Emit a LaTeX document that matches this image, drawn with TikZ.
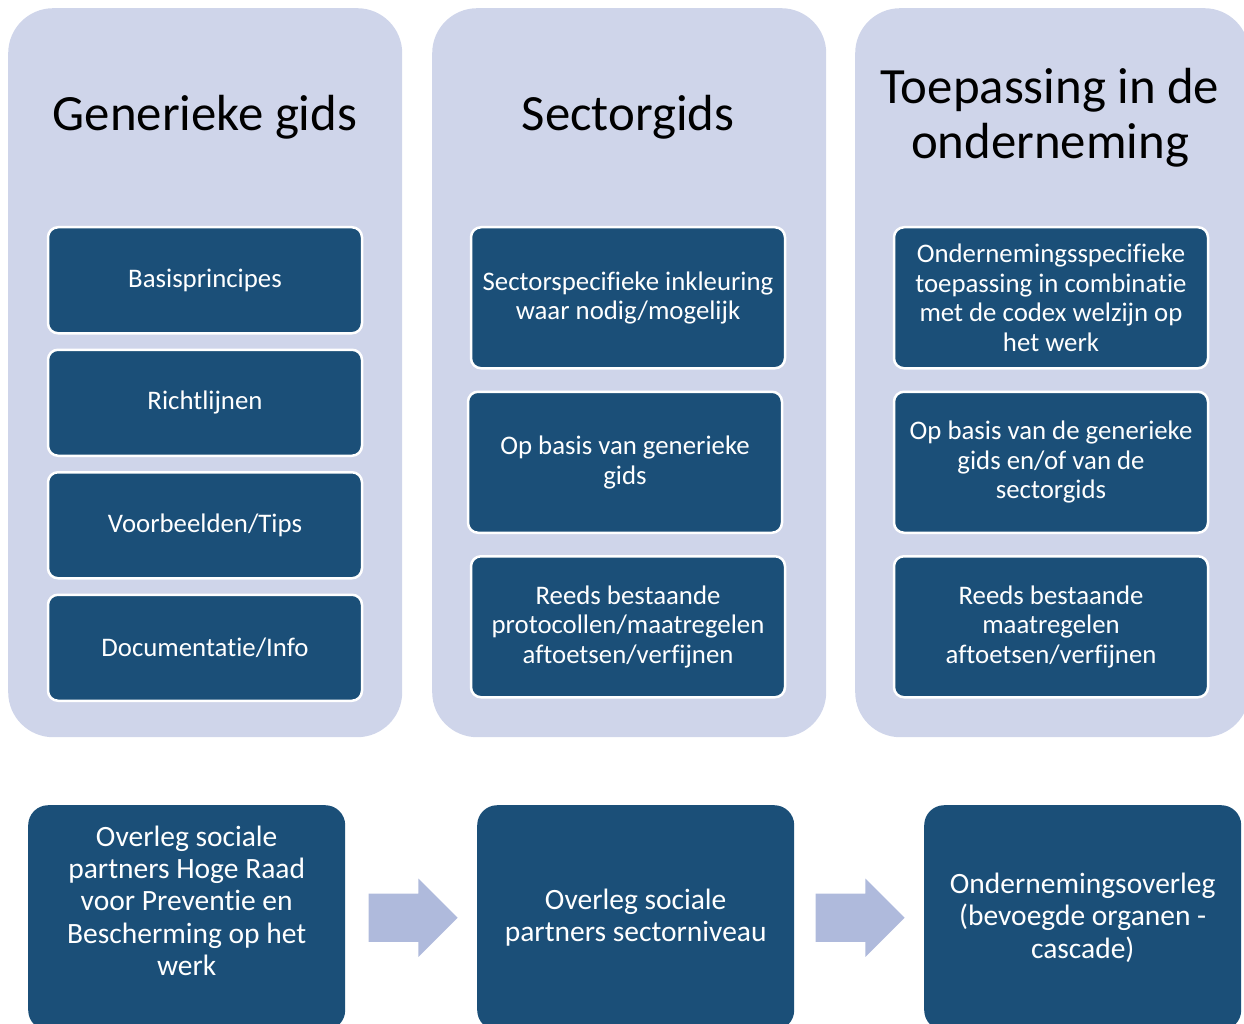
\documentclass[tikz,border=0pt]{standalone}
\usepackage{fontspec}
\setmainfont{Carlito}[Ligatures=NoCommon]
\usetikzlibrary{positioning,shapes.arrows}
\definecolor{panelbg}{HTML}{CFD5EA}
\definecolor{boxblue}{HTML}{1B4F78}
\definecolor{arrowblue}{HTML}{AFBADC}
\begin{document}
\begin{tikzpicture}[x=1pt,y=-1pt,
    panel/.style={fill=panelbg,rounded corners=45pt,anchor=north west,minimum width=394pt,minimum height=729pt,inner sep=0pt},
    title/.style={font=\fontsize{50.8}{55}\selectfont,align=center},
    item/.style={fill=boxblue,draw=white,line width=2.5pt,rounded corners=10pt,text=white,font=\fontsize{26.8}{29.5}\selectfont,align=center,minimum width=314pt,inner sep=0pt},
    stage/.style={fill=boxblue,rounded corners=20pt,text=white,font=\fontsize{29.5}{32.3}\selectfont,align=center,minimum width=317pt,minimum height=225pt,anchor=north west,inner sep=0pt},
    flow/.style={single arrow,fill=arrowblue,minimum height=89pt,minimum width=78pt,single arrow head extend=15pt,single arrow tip angle=90,inner xsep=0pt,inner ysep=24pt,anchor=west}]
  \useasboundingbox (0,0) rectangle (1244,1024);
  % three panels
  \node[panel] (generiek) at (8,8) {};
  \node[panel] (sector) at (432,8) {};
  \node[panel] (toepassing) at (855,8) {};
  \node[title] (gentitle) at (205,117) {Generieke gids};
  \node[title] (sectitle) at (628,117) {Sectorgids};
  \node[title] (toetitle) at (1050,118) {Toepassing in de\\onderneming};
  % generieke gids
  \node[item,minimum height=106pt,anchor=north] (basis) at (205,226) {Basisprincipes};
  \node[item,minimum height=106pt,below=14pt of basis] (richt) {Richtlijnen};
  \node[item,minimum height=106pt,below=14pt of richt] (voorb) {Voorbeelden/Tips};
  \node[item,minimum height=106pt,below=14pt of voorb] (docu) {Documentatie/Info};
  % sectorgids
  \node[item,minimum height=141pt,anchor=north] (sectspec) at (628,226) {Sectorspecifieke inkleuring\\waar nodig/mogelijk};
  \node[item,minimum height=141pt,below=21pt of sectspec,xshift=-3pt] (secbasis) {Op basis van generieke\\gids};
  \node[item,minimum height=141pt,below=21pt of secbasis,xshift=3pt] (secreeds) {Reeds bestaande\\protocollen/maatregelen\\aftoetsen/verfijnen};
  % toepassing in de onderneming
  \node[item,minimum height=141pt,anchor=north] (ondspec) at (1051,226) {Ondernemingsspecifieke\\toepassing in combinatie\\met de codex welzijn op\\het werk};
  \node[item,minimum height=141pt,below=21pt of ondspec] (ondbasis) {Op basis van de generieke\\gids en/of van de\\sectorgids};
  \node[item,minimum height=141pt,below=21pt of ondbasis] (ondreeds) {Reeds bestaande\\maatregelen\\aftoetsen/verfijnen};
  % overleg
  \node[stage] (hogeraad) at (28,805) {};
  \node[text=white,font=\fontsize{29.5}{32.3}\selectfont,align=center] (hogeraadtxt) at ([yshift=17pt]hogeraad.center) {Overleg sociale\\partners Hoge Raad\\voor Preventie en\\Bescherming op het\\werk};
  \node[stage] (sectoroverleg) at (477,805) {Overleg sociale\\partners sectorniveau};
  \node[stage] (ondoverleg) at (924,805) {Ondernemingsoverleg\\(bevoegde organen -\\cascade)};
  \node[flow,right=23pt of hogeraad] (pijl1) {};
  \node[flow,right=21pt of sectoroverleg] (pijl2) {};
\end{tikzpicture}
\end{document}
